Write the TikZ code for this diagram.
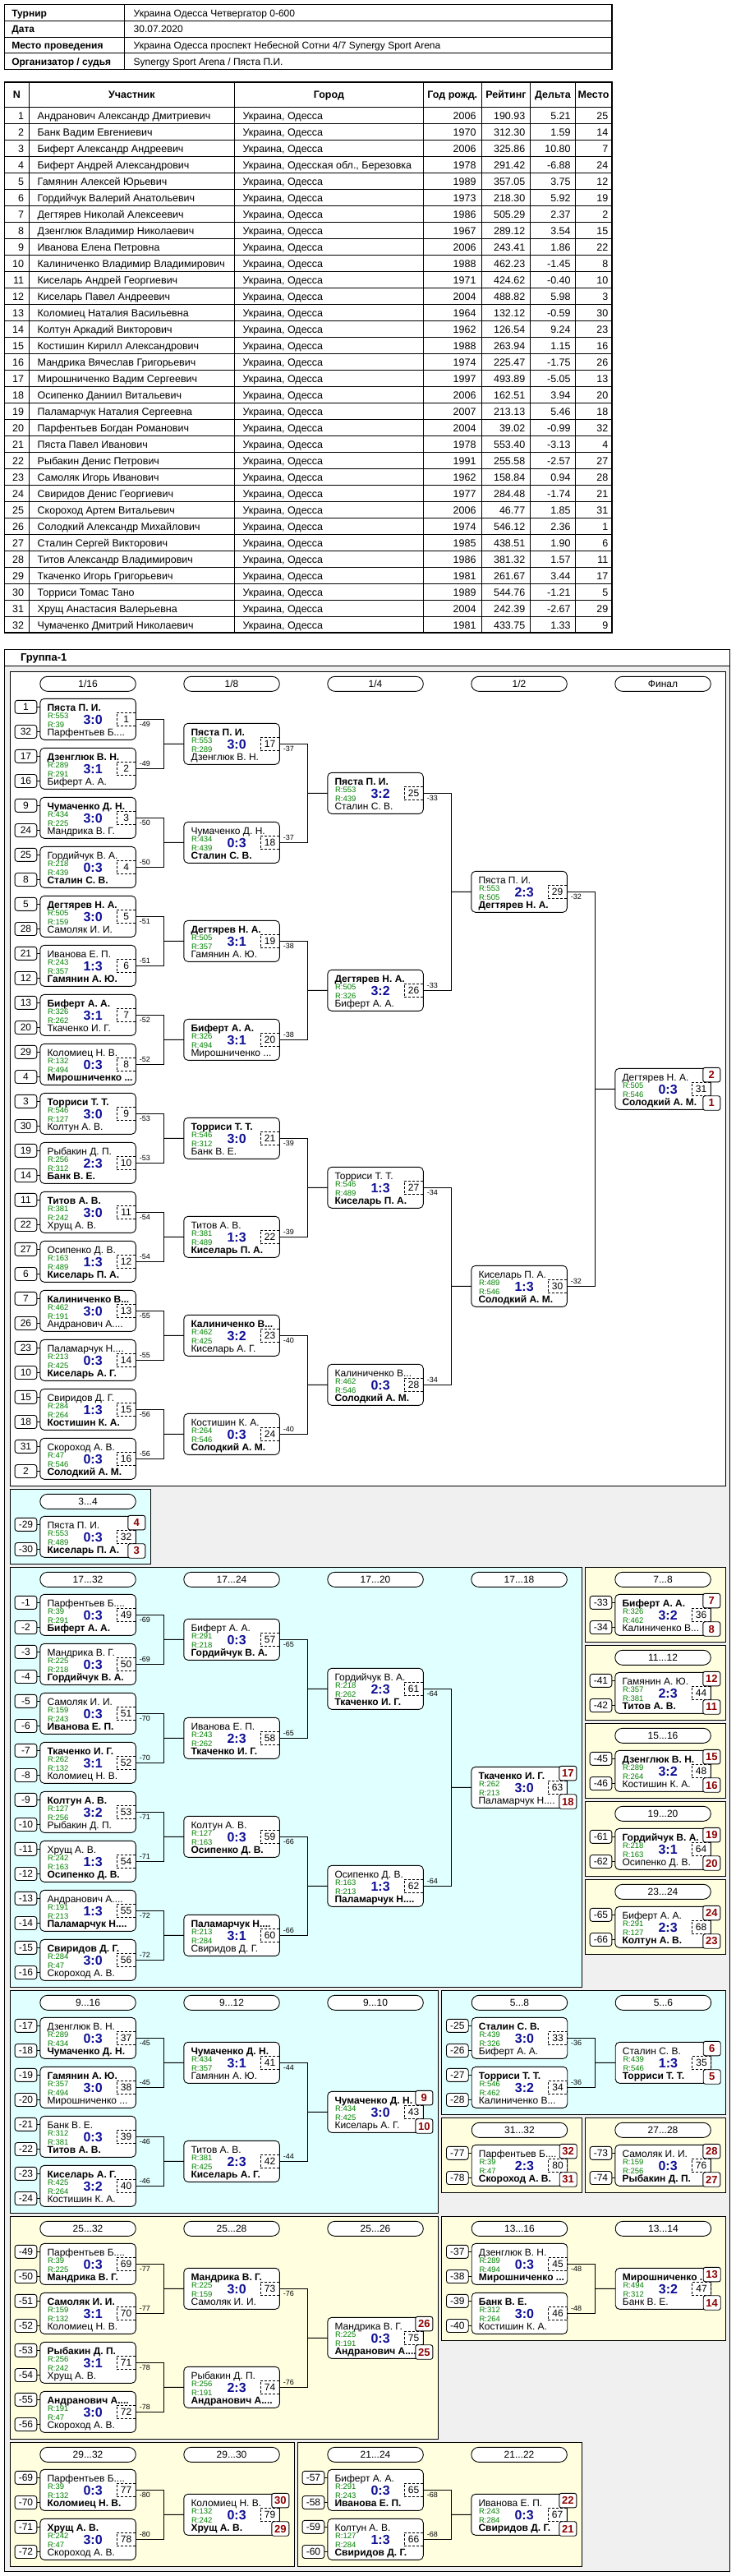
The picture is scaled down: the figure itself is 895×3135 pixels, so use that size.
\documentclass[tikz,border=0pt]{standalone}
\usepackage{fontspec}
\setmainfont{Liberation Sans}
\usetikzlibrary{calc}
\definecolor{rgreen}{RGB}{0,128,0}
\definecolor{sblue}{RGB}{16,16,150}
\definecolor{pred}{RGB}{140,0,0}
\definecolor{pcyan}{RGB}{224,255,255}
\definecolor{pyel}{RGB}{255,255,224}
\definecolor{pgrey}{RGB}{240,240,240}
\newcommand\fs[1]{\fontsize{#1}{#1}\selectfont}
\newcommand\bb[1]{\textbf{#1}}
\tikzset{
 every node/.style={inner sep=0pt, outer sep=0pt},
 mbox/.style={draw, fill=white, rounded corners=5pt, minimum width=116.5pt, minimum height=50pt, line width=0.9pt},
 nm/.style={font=\fs{12}, anchor=base west},
 rt/.style={font=\fs{9.5}, text=rgreen, anchor=base west},
 sc/.style={font=\fs{16}\bfseries, text=sblue, anchor=base},
 numbox/.style={draw, dash pattern=on 3pt off 2pt, minimum width=23.4pt, minimum height=16.6pt, font=\fs{12}, anchor=east, line width=0.7pt},
 seedbox/.style={draw, fill=white, rounded corners=3pt, minimum width=26.7pt, minimum height=16pt, font=\fs{12}, line width=0.9pt},
 lose/.style={font=\fs{9}},
 place/.style={draw, fill=white, rounded corners=2.5pt, minimum width=21pt, minimum height=17.5pt, font=\fs{13}\bfseries, text=pred, line width=0.9pt},
 oval/.style={draw, fill=white, rounded corners=8.9pt, minimum width=116.5pt, minimum height=18pt, font=\fs{12}, line width=0.9pt},
 conn/.style={line width=0.9pt},
 tt/.style={font=\fs{12.5}},
 th/.style={font=\fs{12.5}\bfseries},
 hd/.style={font=\fs{12}},
 hdb/.style={font=\fs{12}\bfseries},
}
% match box: name, col, row, top, R1, score, R2, bottom, number
\newcommand\MB[9]{%
 \node[mbox] (#1) at ({\pL+94.75+175*#2},{\pT+58+30*(pow(2,#2)-1)+60*pow(2,#2)*#3}) {};
 \node[nm] (#1a) at ($(#1.north west)+(8.7,15.5)$) {#4};
 \node[rt] (#1r) at ($(#1.north west)+(9.3,24.3)$) {R:#5};
 \node[rt] (#1s) at ($(#1.north west)+(9.3,35.3)$) {R:#7};
 \node[nm] (#1b) at ($(#1.north west)+(8.7,44.8)$) {#8};
 \node[sc] (#1c) at ($(#1.north west)+(64.3,30.8)$) {#6};
 \node[numbox] (#1n) at (#1.east) {#9};
}
\newcommand\SDS[3]{%
 \node[seedbox] (#1t) at ($(#1.north west)+(-17.35,10)$) {#2};
 \node[seedbox] (#1u) at ($(#1.north west)+(-17.35,40.2)$) {#3};
 \draw[conn] (#1t.east) -- (#1t.east -| #1.west);
 \draw[conn] (#1u.east) -- (#1u.east -| #1.west);
}
\newcommand\BR[4]{%
 \draw[conn] (#1.east) -- ++(34,0) |- (#2.east);
 \draw[conn] (#3.west) -- ($(#1.east)!0.5!(#2.east)+(34,0)$);
 \node[lose, anchor=north west] (#1l) at ($(#1.east)+(4.5,3)$) {#4};
 \node[lose, anchor=south west] (#2l) at ($(#2.east)+(4.5,-3)$) {#4};
}
\newcommand\PM[3]{%
 \node[place] (#1p) at ($(#1.north east)+(1,7.8)$) {#2};
 \node[place] (#1q) at ($(#1.south east)+(1,-7.8)$) {#3};
}
\newcommand\PNL[5]{%
 \def\pL{#1}\def\pT{#2}%
 \draw[fill=#5, line width=0.9pt] (#1,#2) rectangle ({#1+175*#3-4},{#2+#4});
}
\newcommand\OV[3]{\node[oval] (#1) at ({\pL+94.75+175*#2},{\pT+15}) {#3};}
\newcommand\PR[7]{%
 \node[tt, anchor=base east] (pa#1) at (29,{125.5+20*#1}) {#1};
 \node[tt, anchor=base west] (pb#1) at (45.7,{125.5+20*#1}) {#2};
 \node[tt, anchor=base west] (pc#1) at (295.5,{125.5+20*#1}) {#3};
 \node[tt, anchor=base east] (pd#1) at (579.5,{125.5+20*#1}) {#4};
 \node[tt, anchor=base east] (pe#1) at (639.3,{125.5+20*#1}) {#5};
 \node[tt, anchor=base east] (pf#1) at (694.6,{125.5+20*#1}) {#6};
 \node[tt, anchor=base east] (pg#1) at (740.3,{125.5+20*#1}) {#7};
}
\begin{document}
\begin{tikzpicture}[x=1pt,y=-1pt]
\useasboundingbox (0,0) rectangle (895,3135);
\fill[white] (0,0) rectangle (895,3135);
% ---------- header table
\draw[line width=1.2pt] (5.7,5.7) rectangle (744.9,84.5);
\foreach \yy in {25.4,45.1,64.8} \draw[line width=0.9pt] (5.7,\yy) -- (744.9,\yy);
\draw[line width=0.9pt] (151.3,5.7) -- (151.3,84.5);
\node[hdb, anchor=base west] (h1) at (14.3,20) {Турнир};
\node[hd, anchor=base west] (v1) at (162.7,20) {Украина Одесса Четвергатор 0-600};
\node[hdb, anchor=base west] (h2) at (14.3,39.7) {Дата};
\node[hd, anchor=base west] (v2) at (162.7,39.7) {30.07.2020};
\node[hdb, anchor=base west] (h3) at (14.3,59.4) {Место проведения};
\node[hd, anchor=base west] (v3) at (162.7,59.4) {Украина Одесса проспект Небесной Сотни 4/7 Synergy Sport Arena};
\node[hdb, anchor=base west] (h4) at (14.3,79.1) {Организатор / судья};
\node[hd, anchor=base west] (v4) at (162.7,79.1) {Synergy Sport Arena / Пяста П.И.};
% ---------- participants table
\draw[line width=1.2pt] (5.7,100) rectangle (744.9,770);
\foreach \k in {0,...,31} \draw[line width=0.9pt] (5.7,{130+20*\k}) -- (744.9,{130+20*\k});
\foreach \xx in {35.4,285.4,515.4,586.2,645.5,700.3} \draw[line width=0.9pt] (\xx,100) -- (\xx,770);
\node[th, anchor=base] (t1) at (20.5,119.5) {N};
\node[th, anchor=base] (t2) at (160.4,119.5) {Участник};
\node[th, anchor=base] (t3) at (400.4,119.5) {Город};
\node[th, anchor=base] (t4) at (550.8,119.5) {Год рожд.};
\node[th, anchor=base] (t5) at (615.9,119.5) {Рейтинг};
\node[th, anchor=base] (t6) at (672.9,119.5) {Дельта};
\node[th, anchor=base] (t7) at (722.6,119.5) {Место};
\PR{1}{Андранович Александр Дмитриевич}{Украина, Одесса}{2006}{190.93}{5.21}{25}
\PR{2}{Банк Вадим Евгениевич}{Украина, Одесса}{1970}{312.30}{1.59}{14}
\PR{3}{Биферт Александр Андреевич}{Украина, Одесса}{2006}{325.86}{10.80}{7}
\PR{4}{Биферт Андрей Александрович}{Украина, Одесская обл., Березовка}{1978}{291.42}{-6.88}{24}
\PR{5}{Гамянин Алексей Юрьевич}{Украина, Одесса}{1989}{357.05}{3.75}{12}
\PR{6}{Гордийчук Валерий Анатольевич}{Украина, Одесса}{1973}{218.30}{5.92}{19}
\PR{7}{Дегтярев Николай Алексеевич}{Украина, Одесса}{1986}{505.29}{2.37}{2}
\PR{8}{Дзенглюк Владимир Николаевич}{Украина, Одесса}{1967}{289.12}{3.54}{15}
\PR{9}{Иванова Елена Петровна}{Украина, Одесса}{2006}{243.41}{1.86}{22}
\PR{10}{Калиниченко Владимир Владимирович}{Украина, Одесса}{1988}{462.23}{-1.45}{8}
\PR{11}{Киселарь Андрей Георгиевич}{Украина, Одесса}{1971}{424.62}{-0.40}{10}
\PR{12}{Киселарь Павел Андреевич}{Украина, Одесса}{2004}{488.82}{5.98}{3}
\PR{13}{Коломиец Наталия Васильевна}{Украина, Одесса}{1964}{132.12}{-0.59}{30}
\PR{14}{Колтун Аркадий Викторович}{Украина, Одесса}{1962}{126.54}{9.24}{23}
\PR{15}{Костишин Кирилл Александрович}{Украина, Одесса}{1988}{263.94}{1.15}{16}
\PR{16}{Мандрика Вячеслав Григорьевич}{Украина, Одесса}{1974}{225.47}{-1.75}{26}
\PR{17}{Мирошниченко Вадим Сергеевич}{Украина, Одесса}{1997}{493.89}{-5.05}{13}
\PR{18}{Осипенко Даниил Витальевич}{Украина, Одесса}{2006}{162.51}{3.94}{20}
\PR{19}{Паламарчук Наталия Сергеевна}{Украина, Одесса}{2007}{213.13}{5.46}{18}
\PR{20}{Парфентьев Богдан Романович}{Украина, Одесса}{2004}{39.02}{-0.99}{32}
\PR{21}{Пяста Павел Иванович}{Украина, Одесса}{1978}{553.40}{-3.13}{4}
\PR{22}{Рыбакин Денис Петрович}{Украина, Одесса}{1991}{255.58}{-2.57}{27}
\PR{23}{Самоляк Игорь Иванович}{Украина, Одесса}{1962}{158.84}{0.94}{28}
\PR{24}{Свиридов Денис Георгиевич}{Украина, Одесса}{1977}{284.48}{-1.74}{21}
\PR{25}{Скороход Артем Витальевич}{Украина, Одесса}{2006}{46.77}{1.85}{31}
\PR{26}{Солодкий Александр Михайлович}{Украина, Одесса}{1974}{546.12}{2.36}{1}
\PR{27}{Сталин Сергей Викторович}{Украина, Одесса}{1985}{438.51}{1.90}{6}
\PR{28}{Титов Александр Владимирович}{Украина, Одесса}{1986}{381.32}{1.57}{11}
\PR{29}{Ткаченко Игорь Григорьевич}{Украина, Одесса}{1981}{261.67}{3.44}{17}
\PR{30}{Торриси Томас Тано}{Украина, Одесса}{1989}{544.76}{-1.21}{5}
\PR{31}{Хрущ Анастасия Валерьевна}{Украина, Одесса}{2004}{242.39}{-2.67}{29}
\PR{32}{Чумаченко Дмитрий Николаевич}{Украина, Одесса}{1981}{433.75}{1.33}{9}
% ---------- group frame
\draw[fill=pgrey, line width=0.9pt] (5.7,790) rectangle (888.7,3129);
\draw[fill=white, line width=0.9pt] (5.7,790) rectangle (888.7,810.7);
\node[font=\fs{13}\bfseries, anchor=base west] (gtitle) at (25,804.5) {Группа-1};
% ---------- main bracket
\PNL{12.3}{817.3}{5}{991}{white}
\OV{oa0}{0}{1/16}\OV{oa1}{1}{1/8}\OV{oa2}{2}{1/4}\OV{oa3}{3}{1/2}\OV{oa4}{4}{Финал}
\MB{m1}{0}{0}{\bb{Пяста П. И.}}{553}{3:0}{39}{Парфентьев Б....}{1}\SDS{m1}{1}{32}
\MB{m2}{0}{1}{\bb{Дзенглюк В. Н.}}{289}{3:1}{291}{Биферт А. А.}{2}\SDS{m2}{17}{16}
\MB{m3}{0}{2}{\bb{Чумаченко Д. Н.}}{434}{3:0}{225}{Мандрика В. Г.}{3}\SDS{m3}{9}{24}
\MB{m4}{0}{3}{Гордийчук В. А.}{218}{0:3}{439}{\bb{Сталин С. В.}}{4}\SDS{m4}{25}{8}
\MB{m5}{0}{4}{\bb{Дегтярев Н. А.}}{505}{3:0}{159}{Самоляк И. И.}{5}\SDS{m5}{5}{28}
\MB{m6}{0}{5}{Иванова Е. П.}{243}{1:3}{357}{\bb{Гамянин А. Ю.}}{6}\SDS{m6}{21}{12}
\MB{m7}{0}{6}{\bb{Биферт А. А.}}{326}{3:1}{262}{Ткаченко И. Г.}{7}\SDS{m7}{13}{20}
\MB{m8}{0}{7}{Коломиец Н. В.}{132}{0:3}{494}{\bb{Мирошниченко ...}}{8}\SDS{m8}{29}{4}
\MB{m9}{0}{8}{\bb{Торриси Т. Т.}}{546}{3:0}{127}{Колтун А. В.}{9}\SDS{m9}{3}{30}
\MB{m10}{0}{9}{Рыбакин Д. П.}{256}{2:3}{312}{\bb{Банк В. Е.}}{10}\SDS{m10}{19}{14}
\MB{m11}{0}{10}{\bb{Титов А. В.}}{381}{3:0}{242}{Хрущ А. В.}{11}\SDS{m11}{11}{22}
\MB{m12}{0}{11}{Осипенко Д. В.}{163}{1:3}{489}{\bb{Киселарь П. А.}}{12}\SDS{m12}{27}{6}
\MB{m13}{0}{12}{\bb{Калиниченко В...}}{462}{3:0}{191}{Андранович А....}{13}\SDS{m13}{7}{26}
\MB{m14}{0}{13}{Паламарчук Н....}{213}{0:3}{425}{\bb{Киселарь А. Г.}}{14}\SDS{m14}{23}{10}
\MB{m15}{0}{14}{Свиридов Д. Г.}{284}{1:3}{264}{\bb{Костишин К. А.}}{15}\SDS{m15}{15}{18}
\MB{m16}{0}{15}{Скороход А. В.}{47}{0:3}{546}{\bb{Солодкий А. М.}}{16}\SDS{m16}{31}{2}
\MB{m17}{1}{0}{\bb{Пяста П. И.}}{553}{3:0}{289}{Дзенглюк В. Н.}{17}
\MB{m18}{1}{1}{Чумаченко Д. Н.}{434}{0:3}{439}{\bb{Сталин С. В.}}{18}
\MB{m19}{1}{2}{\bb{Дегтярев Н. А.}}{505}{3:1}{357}{Гамянин А. Ю.}{19}
\MB{m20}{1}{3}{\bb{Биферт А. А.}}{326}{3:1}{494}{Мирошниченко ...}{20}
\MB{m21}{1}{4}{\bb{Торриси Т. Т.}}{546}{3:0}{312}{Банк В. Е.}{21}
\MB{m22}{1}{5}{Титов А. В.}{381}{1:3}{489}{\bb{Киселарь П. А.}}{22}
\MB{m23}{1}{6}{\bb{Калиниченко В...}}{462}{3:2}{425}{Киселарь А. Г.}{23}
\MB{m24}{1}{7}{Костишин К. А.}{264}{0:3}{546}{\bb{Солодкий А. М.}}{24}
\MB{m25}{2}{0}{\bb{Пяста П. И.}}{553}{3:2}{439}{Сталин С. В.}{25}
\MB{m26}{2}{1}{\bb{Дегтярев Н. А.}}{505}{3:2}{326}{Биферт А. А.}{26}
\MB{m27}{2}{2}{Торриси Т. Т.}{546}{1:3}{489}{\bb{Киселарь П. А.}}{27}
\MB{m28}{2}{3}{Калиниченко В...}{462}{0:3}{546}{\bb{Солодкий А. М.}}{28}
\MB{m29}{3}{0}{Пяста П. И.}{553}{2:3}{505}{\bb{Дегтярев Н. А.}}{29}
\MB{m30}{3}{1}{Киселарь П. А.}{489}{1:3}{546}{\bb{Солодкий А. М.}}{30}
\MB{m31}{4}{0}{Дегтярев Н. А.}{505}{0:3}{546}{\bb{Солодкий А. М.}}{31}\PM{m31}{2}{1}
\BR{m1}{m2}{m17}{-49}\BR{m3}{m4}{m18}{-50}\BR{m5}{m6}{m19}{-51}\BR{m7}{m8}{m20}{-52}
\BR{m9}{m10}{m21}{-53}\BR{m11}{m12}{m22}{-54}\BR{m13}{m14}{m23}{-55}\BR{m15}{m16}{m24}{-56}
\BR{m17}{m18}{m25}{-37}\BR{m19}{m20}{m26}{-38}\BR{m21}{m22}{m27}{-39}\BR{m23}{m24}{m28}{-40}
\BR{m25}{m26}{m29}{-33}\BR{m27}{m28}{m30}{-34}
\BR{m29}{m30}{m31}{-32}
% ---------- 3..4
\PNL{12.3}{1812.3}{1}{91}{pcyan}
\OV{ob0}{0}{3...4}
\MB{m32}{0}{0}{Пяста П. И.}{553}{0:3}{489}{\bb{Киселарь П. А.}}{32}\SDS{m32}{-29}{-30}\PM{m32}{4}{3}
% ---------- 17..32
\PNL{12.3}{1907.3}{4}{511}{pcyan}
\OV{oc0}{0}{17...32}\OV{oc1}{1}{17...24}\OV{oc2}{2}{17...20}\OV{oc3}{3}{17...18}
\MB{m49}{0}{0}{Парфентьев Б....}{39}{0:3}{291}{\bb{Биферт А. А.}}{49}\SDS{m49}{-1}{-2}
\MB{m50}{0}{1}{Мандрика В. Г.}{225}{0:3}{218}{\bb{Гордийчук В. А.}}{50}\SDS{m50}{-3}{-4}
\MB{m51}{0}{2}{Самоляк И. И.}{159}{0:3}{243}{\bb{Иванова Е. П.}}{51}\SDS{m51}{-5}{-6}
\MB{m52}{0}{3}{\bb{Ткаченко И. Г.}}{262}{3:1}{132}{Коломиец Н. В.}{52}\SDS{m52}{-7}{-8}
\MB{m53}{0}{4}{\bb{Колтун А. В.}}{127}{3:2}{256}{Рыбакин Д. П.}{53}\SDS{m53}{-9}{-10}
\MB{m54}{0}{5}{Хрущ А. В.}{242}{1:3}{163}{\bb{Осипенко Д. В.}}{54}\SDS{m54}{-11}{-12}
\MB{m55}{0}{6}{Андранович А....}{191}{1:3}{213}{\bb{Паламарчук Н....}}{55}\SDS{m55}{-13}{-14}
\MB{m56}{0}{7}{\bb{Свиридов Д. Г.}}{284}{3:0}{47}{Скороход А. В.}{56}\SDS{m56}{-15}{-16}
\MB{m57}{1}{0}{Биферт А. А.}{291}{0:3}{218}{\bb{Гордийчук В. А.}}{57}
\MB{m58}{1}{1}{Иванова Е. П.}{243}{2:3}{262}{\bb{Ткаченко И. Г.}}{58}
\MB{m59}{1}{2}{Колтун А. В.}{127}{0:3}{163}{\bb{Осипенко Д. В.}}{59}
\MB{m60}{1}{3}{\bb{Паламарчук Н....}}{213}{3:1}{284}{Свиридов Д. Г.}{60}
\MB{m61}{2}{0}{Гордийчук В. А.}{218}{2:3}{262}{\bb{Ткаченко И. Г.}}{61}
\MB{m62}{2}{1}{Осипенко Д. В.}{163}{1:3}{213}{\bb{Паламарчук Н....}}{62}
\MB{m63}{3}{0}{\bb{Ткаченко И. Г.}}{262}{3:0}{213}{Паламарчук Н....}{63}\PM{m63}{17}{18}
\BR{m49}{m50}{m57}{-69}\BR{m51}{m52}{m58}{-70}\BR{m53}{m54}{m59}{-71}\BR{m55}{m56}{m60}{-72}
\BR{m57}{m58}{m61}{-65}\BR{m59}{m60}{m62}{-66}
\BR{m61}{m62}{m63}{-64}
% ---------- small yellow panels
\PNL{712.3}{1907.3}{1}{91}{pyel}\OV{od0}{0}{7...8}
\MB{m36}{0}{0}{\bb{Биферт А. А.}}{326}{3:2}{462}{Калиниченко В...}{36}\SDS{m36}{-33}{-34}\PM{m36}{7}{8}
\PNL{712.3}{2002.3}{1}{91}{pyel}\OV{od1}{0}{11...12}
\MB{m44}{0}{0}{Гамянин А. Ю.}{357}{2:3}{381}{\bb{Титов А. В.}}{44}\SDS{m44}{-41}{-42}\PM{m44}{12}{11}
\PNL{712.3}{2097.3}{1}{91}{pyel}\OV{od2}{0}{15...16}
\MB{m48}{0}{0}{\bb{Дзенглюк В. Н.}}{289}{3:2}{264}{Костишин К. А.}{48}\SDS{m48}{-45}{-46}\PM{m48}{15}{16}
\PNL{712.3}{2192.3}{1}{91}{pyel}\OV{od3}{0}{19...20}
\MB{m64}{0}{0}{\bb{Гордийчук В. А.}}{218}{3:1}{163}{Осипенко Д. В.}{64}\SDS{m64}{-61}{-62}\PM{m64}{19}{20}
\PNL{712.3}{2287.3}{1}{91}{pyel}\OV{od4}{0}{23...24}
\MB{m68}{0}{0}{Биферт А. А.}{291}{2:3}{127}{\bb{Колтун А. В.}}{68}\SDS{m68}{-65}{-66}\PM{m68}{24}{23}
% ---------- 9..16
\PNL{12.3}{2422.3}{3}{271}{pcyan}
\OV{oe0}{0}{9...16}\OV{oe1}{1}{9...12}\OV{oe2}{2}{9...10}
\MB{m37}{0}{0}{Дзенглюк В. Н.}{289}{0:3}{434}{\bb{Чумаченко Д. Н.}}{37}\SDS{m37}{-17}{-18}
\MB{m38}{0}{1}{\bb{Гамянин А. Ю.}}{357}{3:0}{494}{Мирошниченко ...}{38}\SDS{m38}{-19}{-20}
\MB{m39}{0}{2}{Банк В. Е.}{312}{0:3}{381}{\bb{Титов А. В.}}{39}\SDS{m39}{-21}{-22}
\MB{m40}{0}{3}{\bb{Киселарь А. Г.}}{425}{3:2}{264}{Костишин К. А.}{40}\SDS{m40}{-23}{-24}
\MB{m41}{1}{0}{\bb{Чумаченко Д. Н.}}{434}{3:1}{357}{Гамянин А. Ю.}{41}
\MB{m42}{1}{1}{Титов А. В.}{381}{2:3}{425}{\bb{Киселарь А. Г.}}{42}
\MB{m43}{2}{0}{\bb{Чумаченко Д. Н.}}{434}{3:0}{425}{Киселарь А. Г.}{43}\PM{m43}{9}{10}
\BR{m37}{m38}{m41}{-45}\BR{m39}{m40}{m42}{-46}\BR{m41}{m42}{m43}{-44}
% ---------- 5..8
\PNL{537.7}{2422.3}{2}{151}{pcyan}
\OV{of0}{0}{5...8}\OV{of1}{1}{5...6}
\MB{m33}{0}{0}{\bb{Сталин С. В.}}{439}{3:0}{326}{Биферт А. А.}{33}\SDS{m33}{-25}{-26}
\MB{m34}{0}{1}{\bb{Торриси Т. Т.}}{546}{3:2}{462}{Калиниченко В...}{34}\SDS{m34}{-27}{-28}
\MB{m35}{1}{0}{Сталин С. В.}{439}{1:3}{546}{\bb{Торриси Т. Т.}}{35}\PM{m35}{6}{5}
\BR{m33}{m34}{m35}{-36}
% ---------- 31..32 and 27..28
\PNL{537.7}{2577.3}{1}{91}{pyel}\OV{og0}{0}{31...32}
\MB{m80}{0}{0}{Парфентьев Б....}{39}{2:3}{47}{\bb{Скороход А. В.}}{80}\SDS{m80}{-77}{-78}\PM{m80}{32}{31}
\PNL{712.3}{2577.3}{1}{91}{pyel}\OV{oh0}{0}{27...28}
\MB{m76}{0}{0}{Самоляк И. И.}{159}{0:3}{256}{\bb{Рыбакин Д. П.}}{76}\SDS{m76}{-73}{-74}\PM{m76}{28}{27}
% ---------- 25..32
\PNL{12.3}{2697.3}{3}{271}{pyel}
\OV{oi0}{0}{25...32}\OV{oi1}{1}{25...28}\OV{oi2}{2}{25...26}
\MB{m69}{0}{0}{Парфентьев Б....}{39}{0:3}{225}{\bb{Мандрика В. Г.}}{69}\SDS{m69}{-49}{-50}
\MB{m70}{0}{1}{\bb{Самоляк И. И.}}{159}{3:1}{132}{Коломиец Н. В.}{70}\SDS{m70}{-51}{-52}
\MB{m71}{0}{2}{\bb{Рыбакин Д. П.}}{256}{3:1}{242}{Хрущ А. В.}{71}\SDS{m71}{-53}{-54}
\MB{m72}{0}{3}{\bb{Андранович А....}}{191}{3:0}{47}{Скороход А. В.}{72}\SDS{m72}{-55}{-56}
\MB{m73}{1}{0}{\bb{Мандрика В. Г.}}{225}{3:0}{159}{Самоляк И. И.}{73}
\MB{m74}{1}{1}{Рыбакин Д. П.}{256}{2:3}{191}{\bb{Андранович А....}}{74}
\MB{m75}{2}{0}{Мандрика В. Г.}{225}{0:3}{191}{\bb{Андранович А....}}{75}\PM{m75}{26}{25}
\BR{m69}{m70}{m73}{-77}\BR{m71}{m72}{m74}{-78}\BR{m73}{m74}{m75}{-76}
% ---------- 13..16
\PNL{537.7}{2697.3}{2}{151}{pyel}
\OV{oj0}{0}{13...16}\OV{oj1}{1}{13...14}
\MB{m45}{0}{0}{Дзенглюк В. Н.}{289}{0:3}{494}{\bb{Мирошниченко ...}}{45}\SDS{m45}{-37}{-38}
\MB{m46}{0}{1}{\bb{Банк В. Е.}}{312}{3:0}{264}{Костишин К. А.}{46}\SDS{m46}{-39}{-40}
\MB{m47}{1}{0}{\bb{Мирошниченко ...}}{494}{3:2}{312}{Банк В. Е.}{47}\PM{m47}{13}{14}
\BR{m45}{m46}{m47}{-48}
% ---------- 29..32
\PNL{12.3}{2972.3}{2}{151}{pyel}
\OV{ok0}{0}{29...32}\OV{ok1}{1}{29...30}
\MB{m77}{0}{0}{Парфентьев Б....}{39}{0:3}{132}{\bb{Коломиец Н. В.}}{77}\SDS{m77}{-69}{-70}
\MB{m78}{0}{1}{\bb{Хрущ А. В.}}{242}{3:0}{47}{Скороход А. В.}{78}\SDS{m78}{-71}{-72}
\MB{m79}{1}{0}{Коломиец Н. В.}{132}{0:3}{242}{\bb{Хрущ А. В.}}{79}\PM{m79}{30}{29}
\BR{m77}{m78}{m79}{-80}
% ---------- 21..24
\PNL{362.3}{2972.3}{2}{151}{pyel}
\OV{ol0}{0}{21...24}\OV{ol1}{1}{21...22}
\MB{m65}{0}{0}{Биферт А. А.}{291}{0:3}{243}{\bb{Иванова Е. П.}}{65}\SDS{m65}{-57}{-58}
\MB{m66}{0}{1}{Колтун А. В.}{127}{1:3}{284}{\bb{Свиридов Д. Г.}}{66}\SDS{m66}{-59}{-60}
\MB{m67}{1}{0}{Иванова Е. П.}{243}{0:3}{284}{\bb{Свиридов Д. Г.}}{67}\PM{m67}{22}{21}
\BR{m65}{m66}{m67}{-68}
\end{tikzpicture}
\end{document}
